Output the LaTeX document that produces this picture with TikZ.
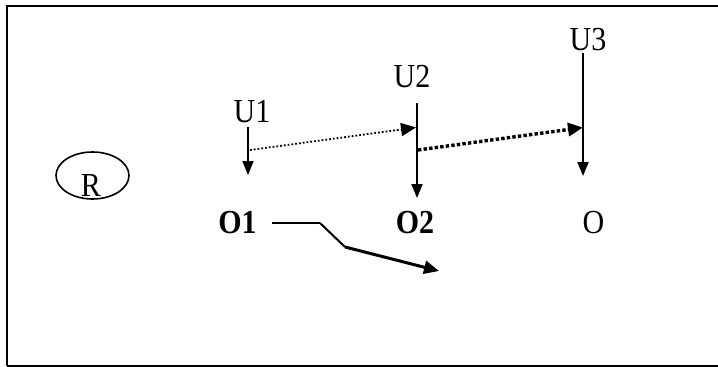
\documentclass[tikz,border=0pt]{standalone}
\usepackage{fontspec}
\setmainfont{Liberation Serif}
\usetikzlibrary{arrows.meta,shapes.geometric}
\newcommand{\vstretch}[1]{\scalebox{1}[1.12]{#1}}
\begin{document}
\begin{tikzpicture}[x=1pt,y=-1pt,
  lbl/.style={inner sep=0pt,anchor=base,font=\fontsize{30}{36}\selectfont},
  blbl/.style={lbl,font=\fontsize{30}{36}\selectfont\bfseries},
  vline/.style={line width=2pt,-{Triangle[length=14pt,width=11pt]}},
  thindot/.style={line width=1.8pt,dash pattern=on 1.8pt off 2pt,-{Triangle[length=15pt,width=13pt]}},
  thickdot/.style={line width=3.4pt,dash pattern=on 3.4pt off 2.2pt,-{Triangle[length=15pt,width=13pt]}},
  frame/.style={line width=2pt}]
\useasboundingbox (0,0) rectangle (718,367);
\draw[frame] (7,366) -- (7,6) -- (730,6);
\draw[frame] (7,366) -- (730,366);
% labels
\node[lbl] (U1) at (252,122) {\vstretch{U1}};
\node[lbl] (U2) at (412,87) {\vstretch{U2}};
\node[lbl] (U3) at (588,50) {\vstretch{U3}};
\node[blbl] (O1) at (237.5,233) {\vstretch{O1}};
\node[blbl] (O2) at (415,233) {\vstretch{O2}};
\node[lbl] (O) at (593.5,233) {\vstretch{O}};
\node[draw,ellipse,line width=1.6pt,minimum width=73pt,minimum height=47pt,inner sep=0pt] (Rc) at (92.5,175.5) {};
\node[lbl] (R) at (91,196) {\vstretch{R}};
% coordinates
\coordinate (u1a) at (248,127);
\coordinate (u1b) at (248,175);
\coordinate (u2a) at (417,103);
\coordinate (u2b) at (417,198);
\coordinate (u3a) at (583,53);
\coordinate (u3b) at (583,176);
\coordinate (d1a) at (250,150);
\coordinate (d1b) at (416,127.5);
\coordinate (d2a) at (418,150);
\coordinate (d2b) at (583,127.5);
\coordinate (b0) at (272,223);
\coordinate (b1) at (320,223);
\coordinate (b2) at (345,247);
\coordinate (b3) at (439,271);
% arrows
\draw[vline] (u1a) -- (u1b);
\draw[vline] (u2a) -- (u2b);
\draw[vline] (u3a) -- (u3b);
\draw[thindot] (d1a) -- (d1b);
\draw[thickdot] (d2a) -- (d2b);
\draw[line width=1.4pt] (b0) -- (b1);
\draw[line width=2pt,line join=round] (b1) -- (b2);
\draw[line width=3pt,-{Triangle[length=15pt,width=13pt]}] (b2) -- (b3);
\end{tikzpicture}
\end{document}
